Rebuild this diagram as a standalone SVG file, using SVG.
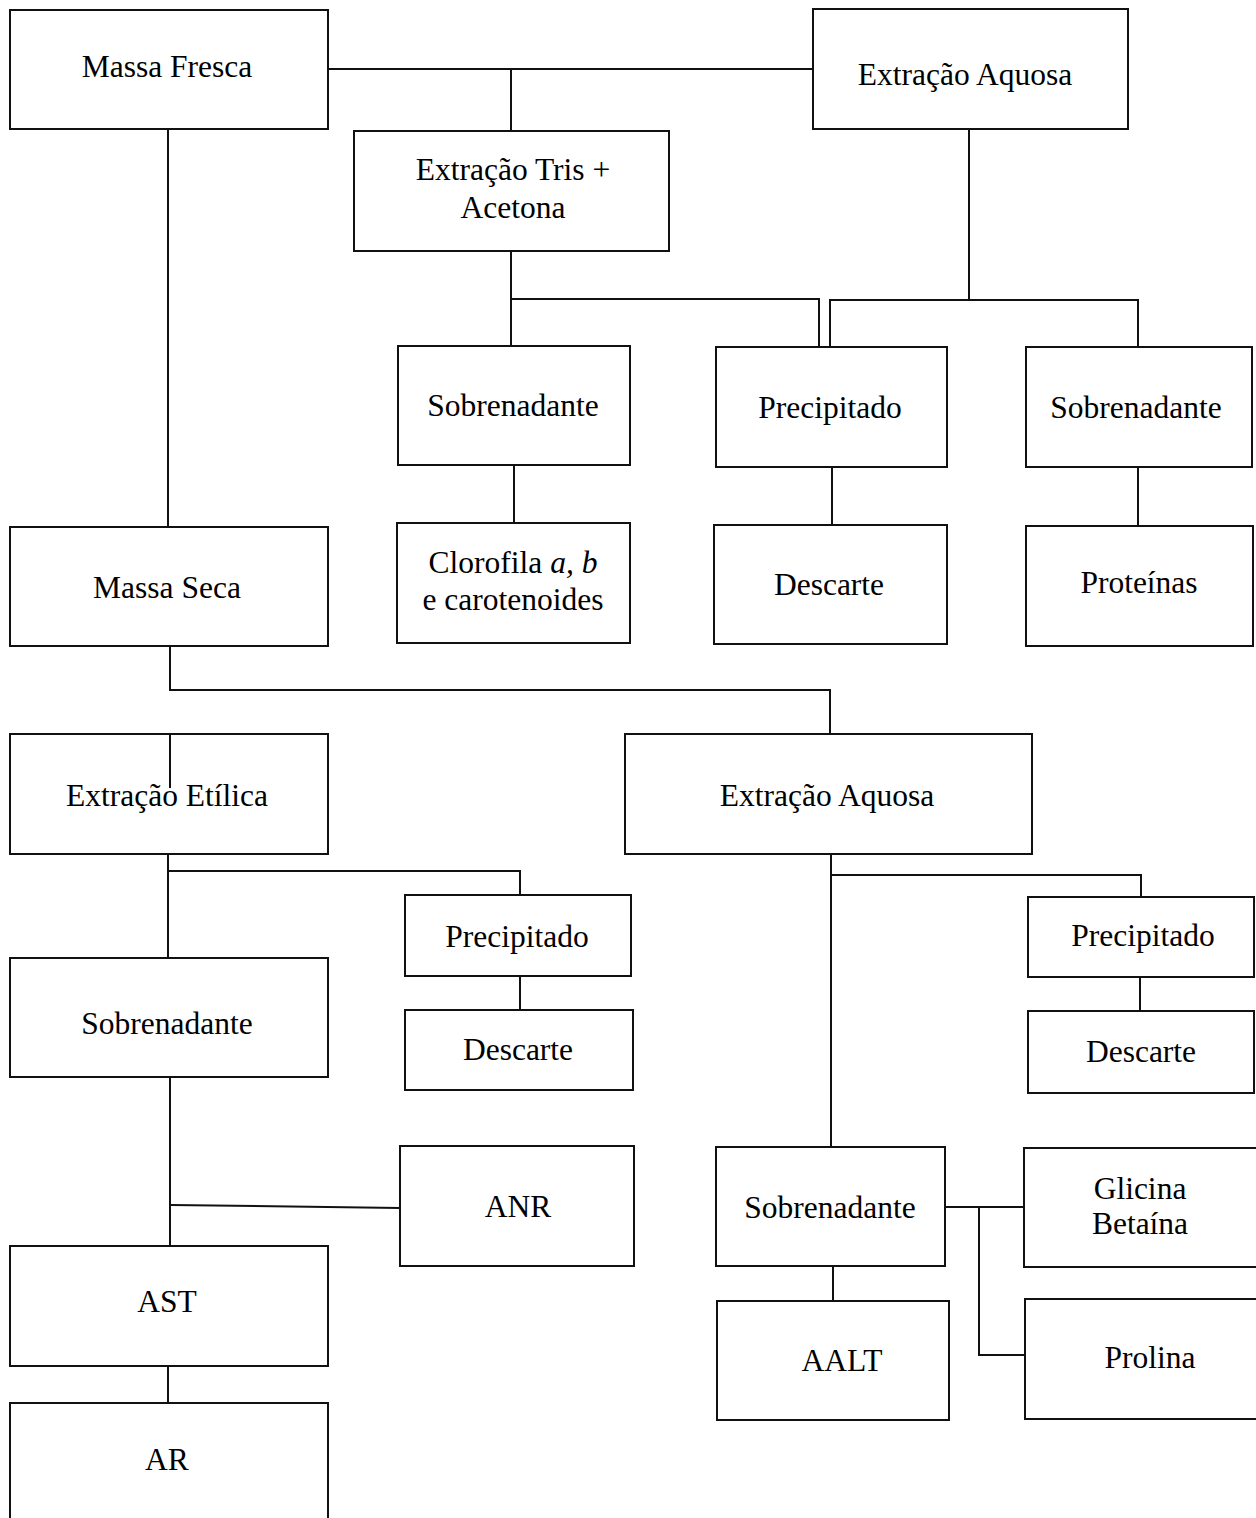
<svg xmlns="http://www.w3.org/2000/svg" width="1256" height="1518" viewBox="0 0 1256 1518">
<style>
rect.n{fill:#fff;stroke:#111;stroke-width:2}
text{font-family:"Liberation Serif","Times New Roman",serif;font-size:31.5px;fill:#000;text-anchor:middle}
#connectors path{fill:none;stroke:#111;stroke-width:2}
</style>
<rect width="1256" height="1518" fill="#fff"/>
<g id="connectors">
<path d="M168 129V527"/>
<path d="M328 69H813"/>
<path d="M511 69V131"/>
<path d="M511 251V346"/>
<path d="M511 299H819V347"/>
<path d="M969 129V300"/>
<path d="M830 347V300H1138V347"/>
<path d="M514 465V523"/>
<path d="M832 467V525"/>
<path d="M1138 467V526"/>
<path d="M170 646V690H830V734"/>
<path d="M168 854V958"/>
<path d="M168 871H520V895"/>
<path d="M520 976V1010"/>
<path d="M170 1077V1246"/>
<path d="M171 1205L400 1208"/>
<path d="M168 1366V1403"/>
<path d="M831 854V1147"/>
<path d="M831 875H1141V897"/>
<path d="M1140 977V1011"/>
<path d="M833 1266V1301"/>
<path d="M945 1207H1024"/>
<path d="M979 1207V1355H1025"/>
</g>
<g id="massa-fresca"><rect class="n" x="10" y="10" width="318" height="119"/><text x="167" y="77">Massa Fresca</text></g>
<g id="extracao-aquosa-1"><rect class="n" x="813" y="9" width="315" height="120"/><text x="965" y="85">Extração Aquosa</text></g>
<g id="extracao-tris"><rect class="n" x="354" y="131" width="315" height="120"/><text x="513" y="180">Extração Tris +</text><text x="513" y="218">Acetona</text></g>
<g id="sobrenadante-1"><rect class="n" x="398" y="346" width="232" height="119"/><text x="513" y="416">Sobrenadante</text></g>
<g id="precipitado-1"><rect class="n" x="716" y="347" width="231" height="120"/><text x="830" y="418">Precipitado</text></g>
<g id="sobrenadante-2"><rect class="n" x="1026" y="347" width="226" height="120"/><text x="1136" y="418">Sobrenadante</text></g>
<g id="clorofila"><rect class="n" x="397" y="523" width="233" height="120"/><text x="513" y="573">Clorofila <tspan font-style="italic">a, b</tspan></text><text x="513" y="610">e carotenoides</text></g>
<g id="descarte-1"><rect class="n" x="714" y="525" width="233" height="119"/><text x="829" y="595">Descarte</text></g>
<g id="proteinas"><rect class="n" x="1026" y="526" width="227" height="120"/><text x="1139" y="593">Proteínas</text></g>
<g id="massa-seca"><rect class="n" x="10" y="527" width="318" height="119"/><text x="167" y="598">Massa Seca</text></g>
<g id="extracao-etilica"><rect class="n" x="10" y="734" width="318" height="120"/><path d="M170 734V788" fill="none" stroke="#111" stroke-width="2"/><text x="167" y="806">Extração Etílica</text></g>
<g id="extracao-aquosa-2"><rect class="n" x="625" y="734" width="407" height="120"/><text x="827" y="806">Extração Aquosa</text></g>
<g id="precipitado-2"><rect class="n" x="405" y="895" width="226" height="81"/><text x="517" y="947">Precipitado</text></g>
<g id="descarte-2"><rect class="n" x="405" y="1010" width="228" height="80"/><text x="518" y="1060">Descarte</text></g>
<g id="sobrenadante-3"><rect class="n" x="10" y="958" width="318" height="119"/><text x="167" y="1034">Sobrenadante</text></g>
<g id="precipitado-3"><rect class="n" x="1028" y="897" width="226" height="80"/><text x="1143" y="946">Precipitado</text></g>
<g id="descarte-3"><rect class="n" x="1028" y="1011" width="226" height="82"/><text x="1141" y="1062">Descarte</text></g>
<g id="anr"><rect class="n" x="400" y="1146" width="234" height="120"/><text x="518" y="1217">ANR</text></g>
<g id="ast"><rect class="n" x="10" y="1246" width="318" height="120"/><text x="167" y="1312">AST</text></g>
<g id="ar"><rect class="n" x="10" y="1403" width="318" height="125"/><text x="167" y="1470">AR</text></g>
<g id="sobrenadante-4"><rect class="n" x="716" y="1147" width="229" height="119"/><text x="830" y="1218">Sobrenadante</text></g>
<g id="glicina-betaina"><rect class="n" x="1024" y="1148" width="234" height="119"/><text x="1140" y="1199">Glicina</text><text x="1140" y="1234">Betaína</text></g>
<g id="aalt"><rect class="n" x="717" y="1301" width="232" height="119"/><text x="842" y="1371">AALT</text></g>
<g id="prolina"><rect class="n" x="1025" y="1299" width="233" height="120"/><text x="1150" y="1368">Prolina</text></g>
</svg>
